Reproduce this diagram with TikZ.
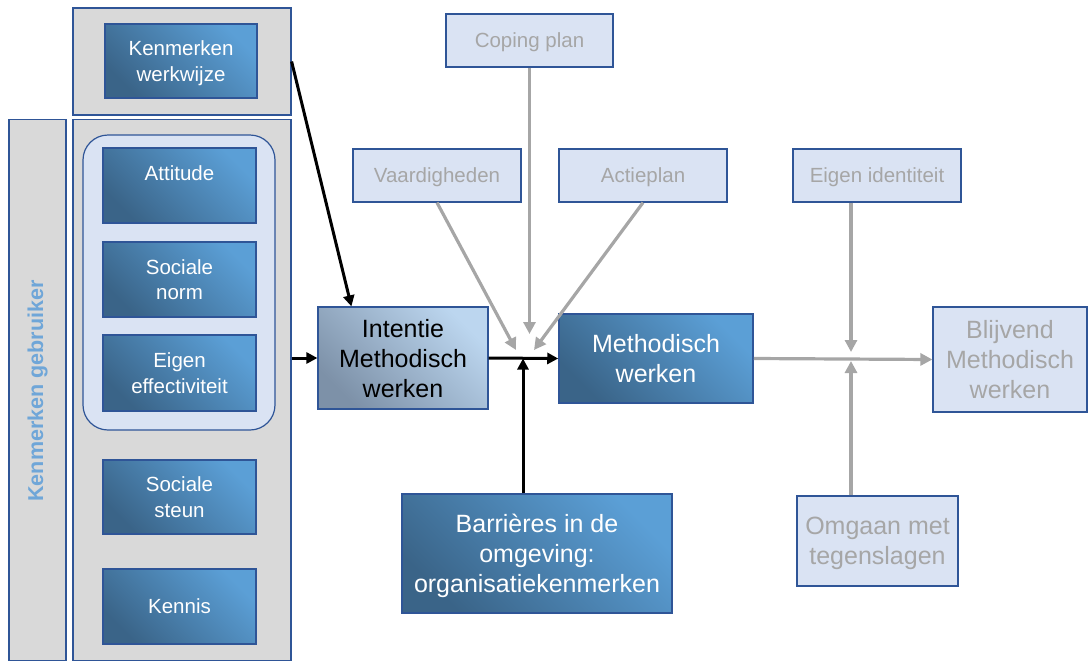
\documentclass[tikz,border=0pt]{standalone}
\usepackage{fontspec}
\setmainfont{Liberation Sans}
\usetikzlibrary{arrows.meta,calc}
\definecolor{bordblue}{HTML}{2F5597}
\definecolor{graybg}{HTML}{D9D9D9}
\definecolor{lightbl}{HTML}{DAE3F3}
\definecolor{darkA}{HTML}{3A6488}
\definecolor{darkB}{HTML}{5B9FD6}
\definecolor{intA}{HTML}{7D91A8}
\definecolor{intB}{HTML}{BCD6EF}
\definecolor{txtgray}{HTML}{A6A6A6}
\definecolor{arrgray}{HTML}{A6A6A6}
\definecolor{vertblue}{HTML}{6FA6D8}
\tikzset{
  bgbox/.style={draw=bordblue, line width=1.2pt, fill=graybg, inner sep=0pt},
  darkbox/.style={draw=bordblue, line width=1.5pt, top color=darkB, bottom color=darkA, shading angle=-45, text=white, align=center, inner sep=0pt, text depth=-1pt, font=\fontsize{20.5}{25.5}\selectfont},
  bigdark/.style={darkbox, font=\fontsize{25}{30}\selectfont},
  lightbox/.style={draw=bordblue, line width=1.2pt, fill=lightbl, text=txtgray, align=center, inner sep=0pt, text depth=-2pt, font=\fontsize{20.5}{25.5}\selectfont},
  biglight/.style={lightbox, font=\fontsize{25}{30}\selectfont},
  blackarr/.style={draw=black, line width=3pt, -{Triangle[length=11pt,width=11pt]}},
  grayarr/.style={draw=arrgray, line width=3.2pt, -{Triangle[length=12pt,width=12pt]}},
  sz/.style 2 args={minimum width=#1pt, minimum height=#2pt}
}
\begin{document}
\begin{tikzpicture}[x=1pt,y=-1pt]
\useasboundingbox (0,0) rectangle (1088,662);
% backgrounds
\node[bgbox, sz={218}{107}] (wwbg) at (182,61.5) {};
\node[bgbox, sz={57}{541}] (bar) at (37.5,390) {};
\node[bgbox, sz={218}{541}] (bigbg) at (182,390) {};
\node[draw=bordblue, line width=1.2pt, fill=lightbl, rounded corners=25pt, sz={192}{295}, inner sep=0pt] (grp) at (179,282.5) {};
\node[rotate=90, text=vertblue, font=\bfseries\fontsize{21.5}{25}\selectfont] (vt) at (37.5,391) {Kenmerken gebruiker};
% dark boxes left
\node[darkbox, sz={152}{74}] (ww) at (181,61) {Kenmerken\\werkwijze};
\node[darkbox, sz={153}{75}] (att) at (179.5,185.5) {Attitude\\~};
\node[darkbox, sz={153}{75}] (sn) at (179.5,279.5) {Sociale\\norm};
\node[darkbox, sz={153}{76}] (ee) at (179.5,373) {Eigen\\effectiviteit};
\node[darkbox, sz={153}{74}] (ss) at (179.5,497) {Sociale\\steun};
\node[darkbox, sz={153}{75}] (ken) at (179.5,606.5) {Kennis};
% central
\node[draw=bordblue, line width=1.2pt, top color=intB, bottom color=intA, shading angle=-45, align=center, inner sep=0pt, text depth=-1pt, font=\fontsize{25}{30}\selectfont, sz={170}{102}] (int) at (403,358) {Intentie\\Methodisch\\werken};
\node[bigdark, sz={194}{89}] (mw) at (656,358.5) {Methodisch\\werken};
\node[bigdark, sz={270}{119}] (barr) at (537,553.5) {Barrières in de\\omgeving:\\organisatiekenmerken};
% light boxes
\node[lightbox, sz={167}{53}] (cop) at (529.5,40.5) {Coping plan};
\node[lightbox, sz={168}{53}] (vaa) at (437,175.5) {Vaardigheden};
\node[lightbox, sz={168}{53}] (act) at (643,175.5) {Actieplan};
\node[lightbox, sz={168}{53}] (eid) at (877,175.5) {Eigen identiteit};
\node[biglight, sz={154}{105}] (bl) at (1010,359.5) {Blijvend\\Methodisch\\werken};
\node[biglight, sz={161}{90}] (omg) at (877.5,541) {Omgaan met\\tegenslagen};
% junction coordinates
\coordinate (J) at (523,358.5);
\coordinate (Jv) at (516,350);
\coordinate (Jc) at (529.5,334);
\coordinate (Ja) at (534,350);
\coordinate (K) at (851,359);
\coordinate (Kt) at (851,352);
\coordinate (Kb) at (851,361);
% black arrows
\draw[blackarr] (wwbg.east) -- ([xshift=34pt]int.north west);
\draw[blackarr] (bigbg.east |- int.west) -- (int.west);
\draw[blackarr] (int.east) -- (mw.west);
\draw[blackarr] (barr.north -| J) -- (J);
% gray arrows
\draw[grayarr] (vaa.south) -- (Jv);
\draw[grayarr] (cop.south) -- (Jc);
\draw[grayarr] (act.south) -- (Ja);
\draw[grayarr] (mw.east) -- (bl.west);
\draw[grayarr] (eid.south -| K) -- (Kt);
\draw[grayarr] (omg.north -| K) -- (Kb);
\end{tikzpicture}
\end{document}
